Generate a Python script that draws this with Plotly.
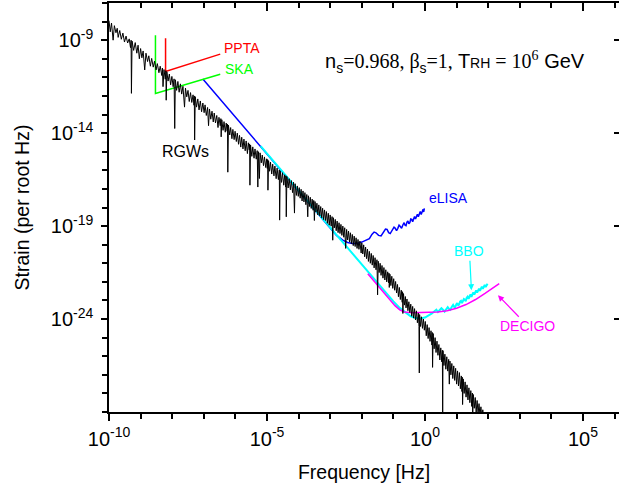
import plotly.graph_objects as go

# ---------------- data (values given as powers of ten) ----------------
# Relic gravitational waves (RGWs) strain spectrum
rgw_log_f = [
    -10.00, -9.96, -9.92, -9.87, -9.83, -9.78, -9.74, -9.71, -9.66, -9.61, -9.56, -9.51, -9.46, -9.41, -9.36, -9.32, -9.30, -9.29, -9.27, -9.22, -9.17, -9.12, -9.08, -9.04,
    -9.00, -8.96, -8.92, -8.87, -8.83, -8.78, -8.74, -8.69, -8.65, -8.60, -8.56, -8.51, -8.47, -8.42, -8.38, -8.33, -8.31, -8.29, -8.26, -8.22, -8.20, -8.19, -8.17, -8.13, -8.09, -8.05,
    -8.01, -7.97, -7.94, -7.92, -7.90, -7.86, -7.82, -7.78, -7.74, -7.70, -7.66, -7.61, -7.58, -7.54, -7.50, -7.46, -7.42, -7.38, -7.34, -7.31, -7.30, -7.29, -7.27, -7.23, -7.19, -7.15, -7.11, -7.07, -7.03,
    -6.99, -6.96, -6.92, -6.88, -6.85, -6.82, -6.78, -6.74, -6.70, -6.67, -6.63, -6.59, -6.55, -6.52, -6.48, -6.46, -6.45, -6.43, -6.39, -6.36, -6.32, -6.29, -6.26, -6.25, -6.24, -6.22, -6.18, -6.15, -6.11, -6.08, -6.04, -6.01,
    -5.97, -5.94, -5.90, -5.87, -5.83, -5.80, -5.76, -5.73, -5.69, -5.66, -5.62, -5.59, -5.56, -5.55, -5.54, -5.52, -5.48, -5.45, -5.41, -5.38, -5.34, -5.31, -5.29, -5.27, -5.24, -5.22, -5.18, -5.15, -5.11, -5.08, -5.04, -5.01,
    -4.99, -4.98, -4.97, -4.95, -4.92, -4.89, -4.85, -4.82, -4.78, -4.75, -4.71, -4.68, -4.64, -4.61, -4.60, -4.58, -4.54, -4.51, -4.47, -4.44, -4.41, -4.40, -4.39, -4.37, -4.33, -4.30, -4.26, -4.23, -4.19, -4.16, -4.13, -4.11, -4.07, -4.04, -4.01,
    -3.98, -3.95, -3.92, -3.89, -3.86, -3.83, -3.80, -3.77, -3.74, -3.71, -3.69, -3.66, -3.63, -3.60, -3.57, -3.54, -3.52, -3.50, -3.48, -3.45, -3.42, -3.39, -3.36, -3.33, -3.30, -3.27, -3.24, -3.21, -3.18, -3.15, -3.12, -3.09, -3.06, -3.03,
    -3.00, -2.97, -2.94, -2.92, -2.90, -2.87, -2.84, -2.81, -2.78, -2.75, -2.72, -2.69, -2.66, -2.63, -2.60, -2.57, -2.54, -2.51, -2.48, -2.45, -2.42, -2.39, -2.36, -2.33, -2.30, -2.27, -2.24, -2.21, -2.18, -2.15, -2.12, -2.09, -2.06, -2.02,
    -2.00, -1.97, -1.94, -1.91, -1.88, -1.85, -1.82, -1.79, -1.76, -1.73, -1.70, -1.67, -1.64, -1.61, -1.58, -1.55, -1.52, -1.50, -1.48, -1.45, -1.42, -1.39, -1.36, -1.33, -1.30, -1.27, -1.24, -1.21, -1.18, -1.15, -1.14, -1.13, -1.11, -1.08, -1.05, -1.02,
    -0.99, -0.96, -0.93, -0.90, -0.87, -0.84, -0.81, -0.78, -0.75, -0.72, -0.71, -0.70, -0.68, -0.65, -0.62, -0.60, -0.57, -0.54, -0.51, -0.48, -0.45, -0.42, -0.39, -0.36, -0.33, -0.30, -0.27, -0.24, -0.21, -0.19, -0.18, -0.17, -0.14, -0.11, -0.08, -0.05, -0.02,
    0.01, 0.04, 0.07, 0.10, 0.13, 0.16, 0.19, 0.22, 0.23, 0.24, 0.26, 0.29, 0.32, 0.35, 0.38, 0.41, 0.44, 0.47, 0.50, 0.53, 0.55, 0.56, 0.57, 0.60, 0.63, 0.66, 0.69, 0.72, 0.75, 0.77, 0.79, 0.82, 0.85, 0.88, 0.91, 0.94, 0.97,
    1.00, 1.03, 1.06, 1.09, 1.12, 1.15, 1.17, 1.18, 1.19, 1.21, 1.24, 1.27, 1.30, 1.33, 1.36, 1.39, 1.42, 1.45, 1.48, 1.50, 1.51, 1.53, 1.56, 1.59, 1.62, 1.65, 1.68, 1.71, 1.74, 1.77, 1.80, 1.83, 1.86, 1.89, 1.92,
]
rgw_log_h = [
    -7.95, -8.55, -8.08, -9.00, -8.22, -8.60, -8.36, -8.85, -8.48, -8.95, -8.62, -9.10, -8.78, -9.15, -8.93, -9.40, -9.00, -11.86, -9.05, -9.55, -9.13, -9.70, -9.27, -10.00,
    -9.45, -9.95, -9.58, -10.60, -9.70, -10.15, -9.84, -10.40, -9.98, -10.45, -10.13, -10.60, -10.26, -10.75, -10.40, -10.90, -10.50, -11.50, -10.58, -11.10, -10.64, -12.23, -10.70, -11.20, -10.82, -11.40,
    -10.95, -11.50, -11.08, -13.75, -11.13, -11.70, -11.22, -11.80, -11.35, -11.90, -11.48, -12.60, -11.58, -12.05, -11.70, -12.30, -11.82, -12.35, -11.94, -12.50, -12.00, -14.37, -12.04, -12.60, -12.16, -12.75, -12.27, -12.85, -12.38,
    -12.90, -12.48, -13.05, -12.62, -13.60, -12.70, -13.25, -12.82, -13.40, -12.92, -13.45, -13.05, -13.70, -13.15, -13.60, -13.22, -14.20, -13.28, -13.85, -13.38, -13.95, -13.46, -13.90, -13.52, -16.10, -13.57, -14.10, -13.70, -14.30, -13.80, -14.35, -13.90,
    -14.45, -14.00, -14.60, -14.12, -14.75, -14.22, -14.85, -14.32, -14.95, -14.42, -15.10, -14.52, -14.90, -14.58, -16.80, -14.64, -15.25, -14.74, -15.35, -14.85, -15.40, -14.94, -16.90, -15.00, -16.44, -15.06, -15.60, -15.18, -15.75, -15.28, -15.85, -15.38,
    -15.90, -15.42, -17.07, -15.48, -16.05, -15.56, -16.20, -15.67, -16.30, -15.77, -16.45, -15.88, -16.50, -15.98, -18.68, -16.03, -16.65, -16.13, -16.80, -16.24, -16.90, -16.30, -18.50, -16.34, -16.95, -16.45, -17.05, -16.55, -17.20, -16.64, -18.30, -16.72, -17.35, -16.84, -17.40,
    -16.93, -17.50, -17.02, -17.65, -17.11, -17.70, -17.20, -17.85, -17.30, -18.50, -17.37, -17.95, -17.45, -18.05, -17.55, -18.15, -17.62, -18.70, -17.68, -18.25, -17.77, -18.40, -17.86, -18.45, -17.95, -18.55, -18.04, -18.65, -18.13, -18.70, -18.22, -18.85, -18.31, -18.95,
    -18.40, -19.00, -18.49, -19.76, -18.55, -19.10, -18.64, -19.25, -18.73, -19.35, -18.82, -19.40, -18.91, -19.50, -19.00, -19.60, -19.09, -20.20, -19.18, -19.75, -19.27, -19.85, -19.36, -19.95, -19.45, -20.05, -19.54, -20.10, -19.63, -20.20, -19.72, -20.25, -19.81, -20.45,
    -19.90, -20.50, -20.01, -20.65, -20.13, -20.75, -20.24, -20.90, -20.36, -21.00, -20.47, -21.10, -20.58, -21.25, -20.70, -21.35, -20.81, -22.70, -20.89, -21.50, -21.00, -21.65, -21.12, -21.80, -21.23, -21.90, -21.35, -22.00, -21.46, -22.05, -21.53, -22.30, -21.59, -22.20, -21.70, -22.35,
    -21.83, -22.45, -21.98, -22.60, -22.14, -22.80, -22.30, -22.95, -22.45, -23.10, -22.53, -23.70, -22.63, -23.25, -22.79, -23.40, -22.92, -23.55, -23.07, -23.65, -23.20, -23.85, -23.32, -23.95, -23.44, -24.05, -23.56, -24.20, -23.68, -24.40, -26.90, -23.76, -24.40, -23.88, -24.50, -24.00, -24.60,
    -24.13, -24.90, -24.30, -25.05, -24.46, -25.20, -24.63, -25.40, -24.72, -26.60, -24.78, -25.60, -25.00, -25.80, -25.19, -25.95, -25.37, -26.20, -25.55, -26.30, -25.68, -29.20, -25.70, -26.50, -25.89, -26.70, -26.03, -26.80, -26.17, -27.50, -26.26, -27.00, -26.39, -27.20, -26.52, -27.30, -26.65,
    -27.50, -26.79, -27.60, -26.88, -27.75, -27.06, -27.90, -27.13, -28.60, -27.22, -28.00, -27.38, -28.20, -27.54, -28.35, -27.70, -28.50, -27.85, -28.70, -27.98, -29.20, -28.06, -28.80, -28.22, -29.00, -28.38, -29.10, -28.55, -29.20, -28.72, -29.30, -28.88, -29.40, -29.05, -29.40,
]

# eLISA sensitivity curve
elisa_log_f = [-7.03, -3.00, -2.80, -2.60, -2.45, -2.30, -2.15, -2.00, -1.88, -1.76, -1.68, -1.61, -1.55, -1.47, -1.39, -1.32, -1.25, -1.20, -1.15, -1.10, -1.04, -0.98, -0.94, -0.90, -0.86, -0.82, -0.78, -0.74, -0.70, -0.66, -0.63, -0.60, -0.57, -0.54, -0.51, -0.48, -0.45, -0.42, -0.39, -0.36, -0.33, -0.30, -0.27, -0.24, -0.21, -0.18, -0.15, -0.12, -0.09, -0.06, -0.04, -0.02]
elisa_log_h = [-11.09, -19.15, -19.50, -19.76, -19.88, -19.94, -19.93, -19.86, -19.78, -19.68, -19.45, -19.32, -19.36, -19.50, -19.53, -19.35, -19.16, -19.18, -19.35, -19.40, -19.20, -19.06, -19.12, -19.25, -19.12, -18.95, -19.02, -19.12, -18.94, -18.82, -18.95, -18.98, -18.78, -18.72, -18.88, -18.82, -18.62, -18.64, -18.76, -18.62, -18.48, -18.62, -18.52, -18.36, -18.50, -18.38, -18.22, -18.38, -18.22, -18.10, -18.24, -18.05]

# BBO sensitivity curve
bbo_log_f = [-5.20, -1.30, -1.00, -0.80, -0.60, -0.45, -0.30, -0.15, 0.00, 0.12, 0.22, 0.30, 0.36, 0.41, 0.46, 0.52, 0.57, 0.62, 0.67, 0.72, 0.76, 0.80, 0.85, 0.89, 0.92, 0.95, 0.99, 1.02, 1.05, 1.08, 1.11, 1.14, 1.17, 1.20, 1.23, 1.26, 1.29, 1.32, 1.35, 1.38, 1.41, 1.44, 1.47, 1.50, 1.53, 1.56, 1.59, 1.62, 1.65, 1.68, 1.71, 1.74, 1.77, 1.80, 1.83, 1.86, 1.89, 1.92, 1.95, 1.98]
bbo_log_h = [-14.70, -22.48, -23.05, -23.40, -23.68, -23.85, -23.95, -23.97, -23.92, -23.82, -23.70, -23.58, -23.50, -23.62, -23.55, -23.42, -23.50, -23.60, -23.48, -23.36, -23.45, -23.50, -23.34, -23.24, -23.34, -23.38, -23.22, -23.14, -23.25, -23.22, -23.06, -23.02, -23.14, -23.06, -22.92, -22.96, -23.04, -22.86, -22.80, -22.92, -22.78, -22.68, -22.80, -22.68, -22.56, -22.68, -22.56, -22.46, -22.58, -22.44, -22.36, -22.48, -22.34, -22.26, -22.38, -22.24, -22.16, -22.28, -22.14, -22.10]

# DECIGO sensitivity curve
decigo_log_f = [-1.81, -0.95, -0.80, -0.65, -0.40, 0.00, 0.40, 0.70, 1.00, 1.30, 1.60, 1.90, 2.10, 2.35]
decigo_log_h = [-21.56, -23.28, -23.50, -23.62, -23.66, -23.66, -23.62, -23.55, -23.42, -23.22, -22.95, -22.62, -22.38, -22.10]

# Pulsar timing arrays
ppta_log_f = [-8.21, -8.21, -6.48]
ppta_log_h = [-8.90, -10.68, -9.75]
ska_log_f = [-8.53, -8.53, -6.48]
ska_log_h = [-8.73, -11.87, -10.83]

# axes
x_tick_exp = [-10, -5, 0, 5]
x_tick_text = ["10<sup>-10</sup>", "10<sup>-5</sup>", "10<sup>0</sup>", "10<sup>5</sup>"]
y_tick_exp = [-9, -14, -19, -24]
y_tick_text = ["10<sup>-9</sup>", "10<sup>-14</sup>", "10<sup>-19</sup>", "10<sup>-24</sup>"]
x_range_exp = [-10, 6.14]
y_range_exp = [-29, -7]


def pw(vals):
    return [10 ** v for v in vals]


SANS = "Liberation Sans, Arial, sans-serif"
SERIF = "Liberation Serif, Times New Roman, serif"

fig = go.Figure()


def line(lf, lh, color, width, axes=("x", "y")):
    fig.add_trace(go.Scatter(x=pw(lf), y=pw(lh), mode="lines",
                             line=dict(color=color, width=width),
                             xaxis=axes[0], yaxis=axes[1],
                             hoverinfo="skip", showlegend=False))


line(elisa_log_f, elisa_log_h, "#0000FF", 1.5)
line(bbo_log_f, bbo_log_h, "#00FFFF", 2)
line(decigo_log_f, decigo_log_h, "#FF00FF", 1.5)
line(ppta_log_f, ppta_log_h, "#FF0000", 1.5)
line(ska_log_f, ska_log_h, "#00FF00", 1.5)
line(rgw_log_f, rgw_log_h, "#000000", 1.0, axes=("x2", "y2"))

common = dict(type="log", showgrid=False, zeroline=False, linecolor="black",
              linewidth=1.5, tickcolor="black", tickwidth=1.5)
tickfont = dict(family=SANS, size=20, color="black")
titlefont = dict(family=SANS, size=19.5, color="black")

fig.update_layout(
    width=619, height=492,
    margin=dict(l=109, r=0, t=3, b=80, pad=0),
    paper_bgcolor="white", plot_bgcolor="white",
    showlegend=False,
    xaxis=dict(**common, range=x_range_exp, anchor="y", showline=True,
               ticks="outside", ticklen=7, tickmode="array",
               tickvals=pw(x_tick_exp), ticktext=x_tick_text, tickfont=tickfont,
               ticklabelstandoff=1,
               minor=dict(ticks="outside", ticklen=5, dtick=1, tick0=0,
                          tickcolor="black", tickwidth=1.5),
               title=dict(text="Frequency [Hz]", font=titlefont, standoff=17)),
    yaxis=dict(**common, range=y_range_exp, anchor="x", showline=True,
               ticks="outside", ticklen=6, tickmode="array",
               tickvals=pw(y_tick_exp), ticktext=y_tick_text, tickfont=tickfont,
               ticklabelstandoff=4,
               minor=dict(ticks="outside", ticklen=5, dtick=1, tick0=0,
                          tickcolor="black", tickwidth=1.5),
               title=dict(text="Strain (per root Hz)", font=titlefont, standoff=16)),
    xaxis2=dict(**common, range=x_range_exp, overlaying="x", side="top", anchor="y2",
                showline=True, ticks="inside", ticklen=8, tickmode="array",
                tickvals=pw(x_tick_exp), showticklabels=False,
                minor=dict(ticks="inside", ticklen=5, dtick=1, tick0=0,
                           tickcolor="black", tickwidth=1.5)),
    yaxis2=dict(**common, range=y_range_exp, overlaying="y", side="right", anchor="x2",
                showline=False, ticks="inside", ticklen=5, tickmode="array",
                tickvals=pw(y_tick_exp), showticklabels=False),
)


def label(text, lx, ly, color, size=14):
    fig.add_annotation(x=lx, y=ly, xref="x", yref="y", text=text, showarrow=False,
                       font=dict(family=SANS, size=size, color=color))


label("PPTA", -5.80, -9.43, "#FF0000")
label("SKA", -5.86, -10.56, "#00FF00")
label("RGWs", -7.57, -14.97, "#000000", 16)
label("eLISA", 0.75, -17.50, "#0000FF")

fig.add_annotation(x=1.47, y=-22.45, xref="x", yref="y", text="BBO",
                   showarrow=True, ax=-2, ay=-39, arrowhead=2, arrowsize=1,
                   arrowwidth=1.2, arrowcolor="#00FFFF",
                   font=dict(family=SANS, size=14, color="#00FFFF"))
fig.add_annotation(x=2.31, y=-22.72, xref="x", yref="y", text="DECIGO",
                   showarrow=True, ax=30, ay=31, arrowhead=2, arrowsize=1,
                   arrowwidth=1.2, arrowcolor="#FF00FF",
                   font=dict(family=SANS, size=14, color="#FF00FF"))

params = ('n<sub>s</sub><span style="font-family:Liberation Serif">=0.968, \u03b2</span>'
          '<sub>s</sub><span style="font-family:Liberation Serif">=1, </span>'
          'T<span style="font-size:14px">RH</span>'
          '<span style="font-family:Liberation Serif"> = 10<sup>6</sup></span> GeV')
fig.add_annotation(x=0.94, y=-10.19, xref="x", yref="y", text=params, showarrow=False,
                   font=dict(family=SANS, size=20, color="black"))

fig.write_html("out.html", config={"displayModeBar": False},
               post_script="document.body.style.margin='0';")
